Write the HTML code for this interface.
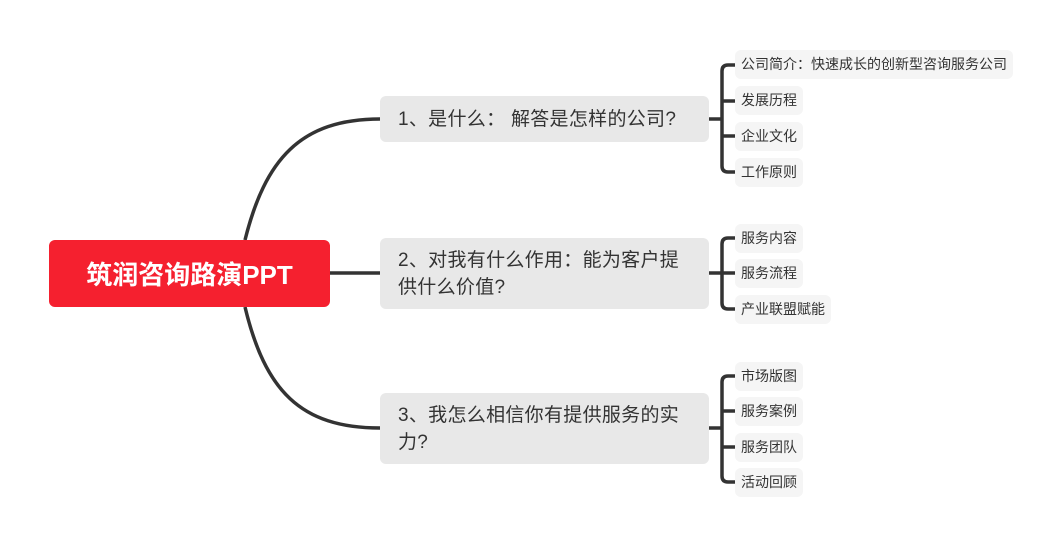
<!DOCTYPE html>
<html><head><meta charset="utf-8"><style>
body{margin:0;width:1063px;height:548px;background:#fff;position:relative;overflow:hidden;font-family:"Liberation Sans","Noto Sans CJK SC",sans-serif}
.b{position:absolute;box-sizing:border-box}
.root{left:49px;top:240px;width:281px;height:67px;background:#f5202f;border-radius:6px;color:#fff;font-weight:bold;font-size:26px;display:flex;align-items:center;justify-content:center}
.br{left:380px;width:329px;background:#e8e8e8;border-radius:6px;color:#333;font-size:19px;letter-spacing:0.3px;line-height:27px;padding:0 14px 0 18px;display:flex;align-items:center}
.lf{left:735px;height:29px;background:#f5f5f5;border-radius:6px;color:#333;font-size:14px;line-height:29px;padding:0 6px;white-space:nowrap}
</style></head><body>
<svg class="b" style="left:0;top:0" width="1063" height="548">
<g fill="none" stroke="#333" stroke-width="3.5">
<path d="M245 240 C265 160 300 119 380 119"/>
<path d="M245 307 C265 390 300 428 380 428"/>
<path d="M330 273 H380"/>
<path d="M709 119 H722 M709 273 H722 M709 428 H722"/>
<path d="M735 65 H728 Q722 65 722 71 V166 Q722 172 728 172 H735 M722 101 H735 M722 136 H735"/>
<path d="M735 238 H728 Q722 238 722 244 V303 Q722 309 728 309 H735 M722 273 H735"/>
<path d="M735 376 H728 Q722 376 722 382 V476 Q722 482 728 482 H735 M722 411 H735 M722 447 H735"/>
</g></svg>
<div class="b root">筑润咨询路演PPT</div>
<div class="b br" style="top:96px;height:46px">1、是什么： 解答是怎样的公司?</div>
<div class="b br" style="top:238px;height:71px">2、对我有什么作用：能为客户提<br>供什么价值?</div>
<div class="b br" style="top:393px;height:71px">3、我怎么相信你有提供服务的实<br>力?</div>
<div class="b lf" style="top:50px">公司简介：快速成长的创新型咨询服务公司</div>
<div class="b lf" style="top:86px">发展历程</div>
<div class="b lf" style="top:122px">企业文化</div>
<div class="b lf" style="top:158px">工作原则</div>
<div class="b lf" style="top:224px">服务内容</div>
<div class="b lf" style="top:259px">服务流程</div>
<div class="b lf" style="top:295px">产业联盟赋能</div>
<div class="b lf" style="top:362px">市场版图</div>
<div class="b lf" style="top:397px">服务案例</div>
<div class="b lf" style="top:433px">服务团队</div>
<div class="b lf" style="top:468px">活动回顾</div>
</body></html>
